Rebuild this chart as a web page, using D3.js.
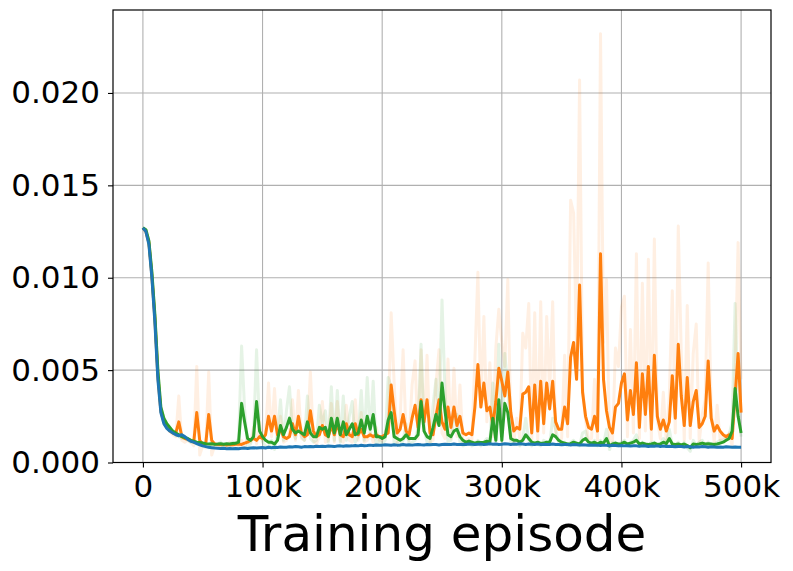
<!DOCTYPE html>
<html>
<head>
<meta charset="utf-8">
<script src="https://cdn.jsdelivr.net/npm/d3@7"></script>
<style>
  html, body { margin: 0; padding: 0; background: #fff; }
  text { font-family: "DejaVu Sans", sans-serif; fill: #000; }
</style>
</head>
<body>
<div id="app"></div>
<script>
const width = 793;
const height = 571;

// episodes sampled every 2.5k
const episodes = d3.range(0, 500001, 2500);
const xTicks = [0, 100000, 200000, 300000, 400000, 500000];
const xTickLabels = ['0', '100k', '200k', '300k', '400k', '500k'];
const yTicks = [0, 0.005, 0.01, 0.015, 0.02];
const yTickLabels = ['0.000', '0.005', '0.010', '0.015', '0.020'];

const blue = [
  0.0127, 0.0125, 0.0118, 0.0100, 0.0076, 0.0045, 0.0027, 0.0021, 0.00185, 0.0017,
  0.0016, 0.0015, 0.00145, 0.0015, 0.0014, 0.00125, 0.00115, 0.0011, 0.00102, 0.00096,
  0.0009, 0.00086, 0.00082, 0.0008, 0.00078, 0.00077, 0.00076, 0.00077, 0.00075, 0.00076,
  0.00074, 0.00076, 0.00075, 0.00077, 0.00078, 0.00076, 0.00079, 0.0008, 0.00078, 0.0008,
  0.00081, 0.00079, 0.00082, 0.0008, 0.00083, 0.00081, 0.00084, 0.00082, 0.00083, 0.00085,
  0.00084, 0.00086, 0.00085, 0.00083, 0.00086, 0.00085, 0.00087, 0.00085, 0.00088, 0.00086,
  0.00088, 0.00087, 0.00089, 0.00088, 0.00086, 0.00089, 0.0009, 0.00088, 0.00091, 0.00089,
  0.0009, 0.00092, 0.0009, 0.00093, 0.00091, 0.00092, 0.00094, 0.00092, 0.00095, 0.00093,
  0.00094, 0.00096, 0.00095, 0.00093, 0.00096, 0.00094, 0.00095, 0.00097, 0.00095, 0.00096,
  0.00094, 0.00096, 0.00098, 0.00096, 0.00095, 0.00097, 0.00096, 0.00098, 0.00097, 0.00095,
  0.00097, 0.00099, 0.00097, 0.00098, 0.001, 0.00098, 0.00097, 0.00099, 0.00098, 0.001,
  0.00099, 0.00097, 0.00099, 0.001, 0.00098, 0.00099, 0.00101, 0.00099, 0.001, 0.00098,
  0.00099, 0.00101, 0.001, 0.00098, 0.001, 0.00099, 0.00101, 0.001, 0.00098, 0.001,
  0.00099, 0.00097, 0.001, 0.00098, 0.00099, 0.00097, 0.00098, 0.001, 0.00097, 0.00098,
  0.00096, 0.00098, 0.00097, 0.00095, 0.00097, 0.00096, 0.00094, 0.00096, 0.00095, 0.00093,
  0.00095, 0.00093, 0.00094, 0.00092, 0.00094, 0.00093, 0.00091, 0.00093, 0.00092, 0.0009,
  0.00092, 0.0009, 0.00091, 0.00089, 0.00091, 0.0009, 0.00088, 0.0009, 0.00089, 0.00087,
  0.00089, 0.00088, 0.0009, 0.00087, 0.00089, 0.00086, 0.00088, 0.00087, 0.00085, 0.00087,
  0.00086, 0.00084, 0.00086, 0.00085, 0.00083, 0.00085, 0.00084, 0.00086, 0.00085, 0.00083,
  0.00085, 0.00084, 0.00082, 0.00084, 0.00083, 0.00085, 0.00084, 0.00083, 0.00084, 0.00083,
  0.00083
];

const orange = [
  0.0127, 0.0125, 0.0119, 0.0101, 0.0078, 0.0047, 0.0028, 0.0022, 0.0019, 0.0017,
  0.0016, 0.0016, 0.0022, 0.0014, 0.0013, 0.00125, 0.0012, 0.0011, 0.0027, 0.0012,
  0.001, 0.001, 0.0026, 0.0012, 0.001, 0.00098, 0.00096, 0.00098, 0.00095, 0.00097,
  0.00096, 0.00099, 0.001, 0.00098, 0.00105, 0.0011, 0.0012, 0.0013, 0.0012, 0.0014,
  0.0013, 0.0015, 0.0025, 0.0017, 0.0025, 0.0015, 0.0018, 0.0014, 0.0013, 0.0014,
  0.0021, 0.0015, 0.0025, 0.0016, 0.0014, 0.0015, 0.0028, 0.0017, 0.0014, 0.0015,
  0.002, 0.0015, 0.0014, 0.002, 0.0015, 0.0021, 0.0015, 0.0014, 0.0021, 0.0015,
  0.0014, 0.0021, 0.0015, 0.0018, 0.0014, 0.0014, 0.0015, 0.0014, 0.0015, 0.0014,
  0.0014, 0.0015, 0.0016, 0.0042, 0.0028, 0.0016, 0.0018, 0.0026, 0.0017, 0.0015,
  0.0024, 0.0031, 0.0019, 0.0034, 0.0022, 0.0034, 0.0016, 0.0015, 0.0025, 0.0034,
  0.0022, 0.0018, 0.003, 0.0019, 0.003, 0.002, 0.0025, 0.0016, 0.0015, 0.0016,
  0.0015, 0.003, 0.0053, 0.003, 0.0043, 0.0028, 0.003, 0.002, 0.0033, 0.0051,
  0.0044, 0.0036, 0.0049, 0.0027, 0.0017, 0.0019, 0.0018, 0.0037, 0.0038, 0.0041,
  0.0016, 0.0042, 0.0017, 0.0044, 0.0021, 0.0043, 0.0029, 0.0044, 0.0022, 0.0018,
  0.0018, 0.003, 0.0021, 0.0057, 0.0065, 0.0045, 0.0096, 0.0038, 0.0025, 0.0019,
  0.0018, 0.0025, 0.0017, 0.0113, 0.0045, 0.0028, 0.0019, 0.0016, 0.003, 0.0032,
  0.0043, 0.0048, 0.0023, 0.0039, 0.0026, 0.0054, 0.0019, 0.0048, 0.0026, 0.0052,
  0.0018, 0.0058, 0.0025, 0.0018, 0.0023, 0.0017, 0.0022, 0.0047, 0.0024, 0.0064,
  0.0036, 0.002, 0.0046, 0.002, 0.0033, 0.0039, 0.0019, 0.0021, 0.0025, 0.0055,
  0.0024, 0.0017, 0.002, 0.0017, 0.0015, 0.0014, 0.0015, 0.0013, 0.0036, 0.0059,
  0.0027
];

const green = [
  0.0127, 0.0126, 0.012, 0.0103, 0.008, 0.005, 0.003, 0.0024, 0.0021, 0.0019,
  0.0017, 0.0016, 0.0015, 0.0014, 0.00135, 0.0013, 0.0012, 0.00115, 0.0011, 0.00108,
  0.00105, 0.00102, 0.001, 0.00101, 0.00099, 0.001, 0.00102, 0.00099, 0.00101, 0.001,
  0.00103, 0.00104, 0.0011, 0.0032, 0.0022, 0.0013, 0.0012, 0.0014, 0.0033, 0.0017,
  0.0014, 0.0012, 0.0011, 0.0011, 0.001, 0.0012, 0.002, 0.0015, 0.0019, 0.0024,
  0.0018, 0.0016, 0.0017, 0.0016, 0.0015, 0.0022, 0.0016, 0.0014, 0.0014, 0.0019,
  0.0018, 0.0019, 0.0014, 0.0024, 0.0016, 0.0024, 0.0015, 0.0022, 0.0015, 0.0018,
  0.0021, 0.0015, 0.0016, 0.0023, 0.0016, 0.0025, 0.0018, 0.0026, 0.0014, 0.0014,
  0.0013, 0.0014, 0.0023, 0.0027, 0.0014, 0.0013, 0.0012, 0.0013, 0.0015, 0.0013,
  0.0013, 0.0013, 0.0015, 0.0033, 0.0017, 0.0014, 0.0013, 0.0019, 0.0026, 0.002,
  0.0043, 0.0028, 0.0015, 0.0014, 0.0017, 0.0018, 0.0014, 0.0012, 0.0011, 0.00115,
  0.0011, 0.00105, 0.0011, 0.00108, 0.0011, 0.00115, 0.0011, 0.0024, 0.0012, 0.0034,
  0.0012, 0.0032, 0.0027, 0.0013, 0.0012, 0.0012, 0.0011, 0.0012, 0.0015, 0.0013,
  0.0011, 0.00105, 0.0011, 0.00103, 0.00105, 0.0011, 0.0011, 0.0015, 0.0014, 0.0012,
  0.0011, 0.00105, 0.001, 0.00102, 0.0011, 0.00105, 0.001, 0.0012, 0.0013, 0.0011,
  0.00105, 0.0011, 0.001, 0.0011, 0.00105, 0.0013, 0.0009, 0.001, 0.00105, 0.001,
  0.00102, 0.0011, 0.001, 0.00105, 0.0011, 0.0012, 0.001, 0.00105, 0.001, 0.00098,
  0.001, 0.00105, 0.00098, 0.001, 0.0011, 0.00102, 0.0013, 0.001, 0.00098, 0.001,
  0.00095, 0.001, 0.00092, 0.0008, 0.001, 0.00098, 0.001, 0.00105, 0.001, 0.00102,
  0.001, 0.00098, 0.001, 0.00105, 0.0011, 0.0012, 0.0013, 0.0017, 0.004, 0.0025,
  0.0016
];

// faint raw curves behind the smoothed ones
const orangeRaw = [
  0.0127, 0.0125, 0.0119, 0.0101, 0.0078, 0.0047, 0.0028, 0.0022, 0.0019, 0.0017,
  0.0015, 0.0014, 0.0036, 0.0012, 0.0011, 0.0012, 0.0011, 0.0009, 0.0052, 0.0004,
  0.0009, 0.0008, 0.0049, 0.0004, 0.0009, 0.0008, 0.001, 0.0008, 0.0009, 0.0011,
  0.0008, 0.001, 0.0009, 0.0012, 0.0008, 0.0014, 0.0011, 0.0019, 0.001, 0.0022,
  0.0012, 0.0016, 0.0043, 0.0014, 0.004, 0.0012, 0.0025, 0.0011, 0.0012, 0.0016,
  0.0034, 0.0012, 0.0039, 0.0013, 0.0012, 0.0016, 0.0049, 0.0012, 0.001, 0.0014,
  0.0033, 0.0011, 0.0012, 0.0032, 0.0011, 0.0033, 0.0012, 0.0011, 0.0031, 0.0012,
  0.0011, 0.0034, 0.0012, 0.0027, 0.0011, 0.0012, 0.0016, 0.0011, 0.0019, 0.0012,
  0.0012, 0.0017, 0.0019, 0.0081, 0.0043, 0.0011, 0.0024, 0.0061, 0.0014, 0.0012,
  0.0042, 0.0055, 0.0013, 0.0061, 0.0017, 0.0058, 0.0011, 0.0012, 0.0043, 0.0061,
  0.0016, 0.0013, 0.0056, 0.0013, 0.0051, 0.0014, 0.0042, 0.0011, 0.0012, 0.0013,
  0.0012, 0.0056, 0.0103, 0.0031, 0.0079, 0.0022, 0.0054, 0.0014, 0.0062, 0.0083,
  0.0065, 0.0052, 0.0099, 0.0021, 0.0011, 0.0024, 0.0013, 0.007, 0.0062, 0.0086,
  0.0011, 0.0081, 0.0012, 0.0087, 0.0016, 0.0079, 0.0038, 0.0087, 0.0014, 0.0012,
  0.0013, 0.0058, 0.0014, 0.0142, 0.0135, 0.0062, 0.0207, 0.0041, 0.0023, 0.0012,
  0.0013, 0.0045, 0.0012, 0.0232, 0.0065, 0.0099, 0.0012, 0.0011, 0.0062, 0.0052,
  0.0084, 0.009, 0.0014, 0.0072, 0.0016, 0.0113, 0.0013, 0.0097, 0.0017, 0.011,
  0.0012, 0.0121, 0.0023, 0.0013, 0.0038, 0.0011, 0.0036, 0.0093, 0.0016, 0.0128,
  0.0059, 0.0012, 0.0085, 0.0013, 0.0059, 0.0075, 0.0011, 0.0026, 0.0034, 0.0108,
  0.0028, 0.0011, 0.0031, 0.0012, 0.0014, 0.0012, 0.0016, 0.0009, 0.005, 0.0119,
  0.0045
];

const greenRaw = [
  0.0127, 0.0126, 0.012, 0.0103, 0.008, 0.005, 0.003, 0.0024, 0.0021, 0.0019,
  0.0016, 0.0015, 0.0014, 0.0013, 0.0013, 0.0012, 0.0011, 0.0011, 0.001, 0.001,
  0.0009, 0.001, 0.0008, 0.0011, 0.0009, 0.001, 0.0011, 0.0008, 0.001, 0.0009,
  0.0011, 0.001, 0.0013, 0.0063, 0.0029, 0.0009, 0.001, 0.0016, 0.0061, 0.0019,
  0.0011, 0.0009, 0.0008, 0.0012, 0.0007, 0.0015, 0.0034, 0.0012, 0.0028, 0.0041,
  0.0017, 0.0013, 0.0021, 0.0014, 0.0012, 0.0036, 0.0013, 0.0011, 0.0012, 0.0031,
  0.0021, 0.0028, 0.0011, 0.0041, 0.0012, 0.0039, 0.0011, 0.0036, 0.0012, 0.0025,
  0.0033, 0.0011, 0.0014, 0.0039, 0.0012, 0.0046, 0.0015, 0.0044, 0.0009, 0.0012,
  0.001, 0.0012, 0.0046, 0.0041, 0.001, 0.0011, 0.0009, 0.0012, 0.0021, 0.001,
  0.0011, 0.0012, 0.0019, 0.0064, 0.0018, 0.0011, 0.001, 0.0031, 0.0045, 0.0023,
  0.0088, 0.0039, 0.0011, 0.0012, 0.0024, 0.0026, 0.0011, 0.0009, 0.001, 0.0012,
  0.0009, 0.001, 0.0012, 0.0009, 0.0011, 0.0013, 0.001, 0.0043, 0.0011, 0.0064,
  0.001, 0.0059, 0.0041, 0.0011, 0.001, 0.0012, 0.0009, 0.0013, 0.0024, 0.0012,
  0.0009, 0.0011, 0.001, 0.0009, 0.0012, 0.0011, 0.001, 0.0024, 0.0018, 0.0011,
  0.001, 0.0011, 0.0009, 0.0011, 0.0012, 0.001, 0.0009, 0.0016, 0.0017, 0.001,
  0.001, 0.0012, 0.0009, 0.0012, 0.001, 0.0018, 0.0007, 0.0011, 0.0011, 0.0009,
  0.0011, 0.0012, 0.0009, 0.0011, 0.0012, 0.0015, 0.0009, 0.0011, 0.001, 0.0009,
  0.0011, 0.0011, 0.0009, 0.001, 0.0013, 0.001, 0.0018, 0.0009, 0.0009, 0.0011,
  0.0009, 0.0011, 0.0008, 0.0006, 0.0012, 0.0009, 0.0011, 0.0012, 0.0009, 0.0011,
  0.0009, 0.001, 0.0011, 0.0012, 0.0012, 0.0014, 0.0015, 0.0022, 0.0086, 0.0031,
  0.0014
];

const margin = { top: 10, right: 22, bottom: 108, left: 113 };

const svg = d3.select('#app').append('svg')
  .attr('width', width)
  .attr('height', height);

const x = d3.scaleLinear()
  .domain([-25000, 525000])
  .range([margin.left, width - margin.right]);

const y = d3.scaleLinear()
  .domain([0, 0.02449])
  .range([height - margin.bottom - 0.5, margin.top]);

// grid
svg.append('g')
  .selectAll('line')
  .data(xTicks)
  .enter().append('line')
  .attr('x1', d => x(d)).attr('x2', d => x(d))
  .attr('y1', margin.top).attr('y2', y(0))
  .attr('stroke', '#b0b0b0').attr('stroke-width', 1.1);

svg.append('g')
  .selectAll('line')
  .data(yTicks)
  .enter().append('line')
  .attr('x1', margin.left).attr('x2', width - margin.right)
  .attr('y1', d => y(d)).attr('y2', d => y(d))
  .attr('stroke', '#b0b0b0').attr('stroke-width', 1.1);

svg.append('clipPath').attr('id', 'clip')
  .append('rect')
  .attr('x', margin.left).attr('y', margin.top)
  .attr('width', width - margin.right - margin.left)
  .attr('height', y(0) - margin.top);

const plot = svg.append('g').attr('clip-path', 'url(#clip)');

const line = values => d3.line()
  .x((_, i) => x(episodes[i]))
  .y(d => y(d))(values);

const series = [
  { values: orangeRaw, color: '#ff7f0e', opacity: 0.12 },
  { values: greenRaw, color: '#2ca02c', opacity: 0.12 },
  { values: orange, color: '#ff7f0e', opacity: 1 },
  { values: green, color: '#2ca02c', opacity: 1 },
  { values: blue, color: '#1f77b4', opacity: 1 }
];

plot.selectAll('path')
  .data(series)
  .enter().append('path')
  .attr('d', d => line(d.values))
  .attr('fill', 'none')
  .attr('stroke', d => d.color)
  .attr('stroke-opacity', d => d.opacity)
  .attr('stroke-width', 3)
  .attr('stroke-linejoin', 'round');

// axes
const xAxis = d3.axisBottom(x)
  .tickValues(xTicks)
  .tickFormat((_, i) => xTickLabels[i])
  .tickSize(5)
  .tickPadding(7);

const yAxis = d3.axisLeft(y)
  .tickValues(yTicks)
  .tickFormat((_, i) => yTickLabels[i])
  .tickSize(5)
  .tickPadding(8);

const gx = svg.append('g')
  .attr('transform', `translate(0, ${y(0)})`)
  .call(xAxis);
const gy = svg.append('g')
  .attr('transform', `translate(${margin.left}, 0)`)
  .call(yAxis);

[gx, gy].forEach(g => {
  g.select('.domain').remove();
  g.selectAll('.tick line').attr('stroke', '#000').attr('stroke-width', 1.1);
  g.selectAll('.tick text')
    .style('font-family', '"DejaVu Sans", sans-serif')
    .style('font-size', '31px')
    .attr('fill', '#000');
});

// frame
svg.append('rect')
  .attr('x', margin.left).attr('y', margin.top)
  .attr('width', width - margin.right - margin.left)
  .attr('height', y(0) - margin.top)
  .attr('fill', 'none')
  .attr('stroke', '#000')
  .attr('stroke-width', 1.2);

svg.append('text')
  .attr('x', (margin.left + width - margin.right) / 2)
  .attr('y', 551)
  .attr('text-anchor', 'middle')
  .style('font-size', '50px')
  .text('Training episode');
</script>
</body>
</html>
